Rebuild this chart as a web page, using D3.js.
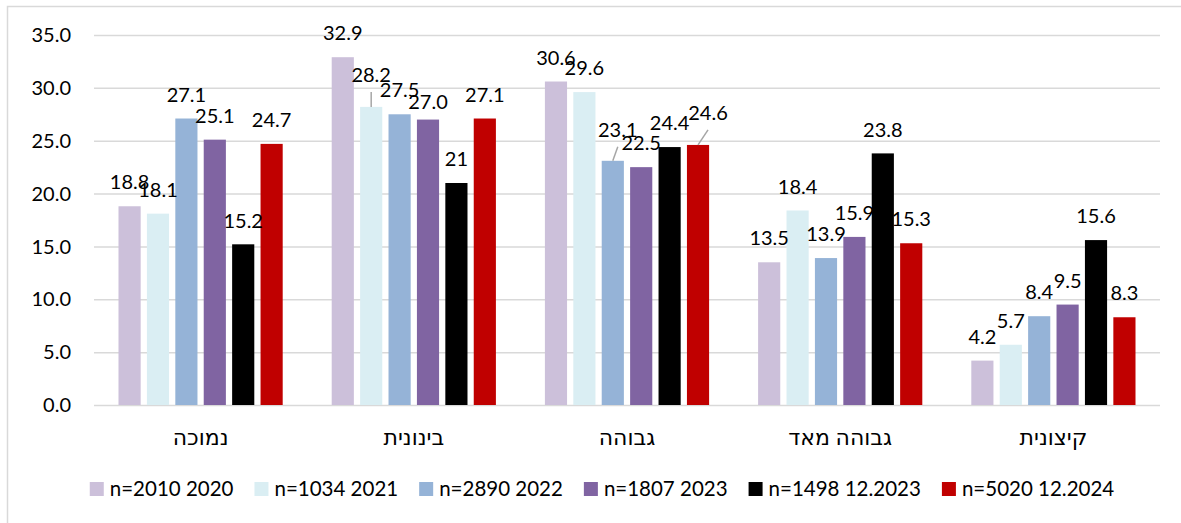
<!DOCTYPE html>
<html>
<head>
<meta charset="utf-8">
<script src="https://cdn.jsdelivr.net/npm/d3@7"></script>
<style>
    body { margin: 0; background: #fff; }
    text { font-family: Lato, "DejaVu Sans", sans-serif; fill: #000; }
</style>
</head>
<body>
<div id="chart"></div>
<script>
const categories = ["נמוכה", "בינונית", "גבוהה", "גבוהה מאד", "קיצונית"];
const seriesNames = ["n=2010 2020", "n=1034 2021", "n=2890 2022", "n=1807 2023", "n=1498 12.2023", "n=5020 12.2024"];
const s2020 = [18.8, 32.9, 30.6, 13.5, 4.2];
const s2021 = [18.1, 28.2, 29.6, 18.4, 5.7];
const s2022 = [27.1, 27.5, 23.1, 13.9, 8.4];
const s2023 = [25.1, 27.0, 22.5, 15.9, 9.5];
const s122023 = [15.2, 21, 24.4, 23.8, 15.6];
const s122024 = [24.7, 27.1, 24.6, 15.3, 8.3];
const yTicks = [0, 5, 10, 15, 20, 25, 30, 35];

const colors = ["#ccc0da", "#daeef3", "#95b3d7", "#8064a2", "#000000", "#c00000"];
const allSeries = [s2020, s2021, s2022, s2023, s122023, s122024];

// labels that were dragged by hand in the original
const nudges = {
    "1-1": {dx: 0, dy: -8, leader: true},
    "1-3": {dx: 0, dy: 6},
    "2-2": {dx: 5, dy: -7, leader: true},
    "2-5": {dx: 10, dy: -8, leader: true}
};
const labelText = v => v === 21 ? "21" : d3.format(".1f")(v);

const width = 1181, height = 523;
const margin = {top: 35, right: 21, bottom: 118, left: 94};

const svg = d3.select("#chart")
    .append("svg")
    .attr("width", width)
    .attr("height", height);

// outer chart border
svg.append("rect")
    .attr("x", 7.5).attr("y", 6.5)
    .attr("width", 1200).attr("height", 600)
    .attr("fill", "none")
    .attr("stroke", "#d9d9d9")
    .attr("stroke-width", 1.5);

const x0 = d3.scaleBand()
    .domain(categories)
    .range([margin.left, width - margin.right]);

const x1 = d3.scaleBand()
    .domain(d3.range(seriesNames.length))
    .range([24.5, x0.bandwidth() - 24.5])
    .paddingInner(0.22);

const y = d3.scaleLinear()
    .domain([0, 35])
    .range([height - margin.bottom, margin.top]);

// gridlines
svg.append("g")
    .selectAll("line")
    .data(yTicks)
    .enter()
    .append("line")
    .attr("x1", margin.left)
    .attr("x2", width - margin.right)
    .attr("y1", d => y(d) + 0.5)
    .attr("y2", d => y(d) + 0.5)
    .attr("stroke", "#d9d9d9")
    .attr("stroke-width", 1.5);

svg.append("g")
    .selectAll("text")
    .data(yTicks)
    .enter()
    .append("text")
    .attr("x", 71)
    .attr("y", d => y(d))
    .attr("dy", "0.36em")
    .attr("text-anchor", "end")
    .style("font-size", "20px")
    .text(d => d3.format(".1f")(d));

const rows = [];
categories.forEach((c, ci) => {
    allSeries.forEach((s, si) => {
        rows.push({ci: ci, si: si, cat: c, value: s[ci]});
    });
});

const bx = d => x0(d.cat) + x1(d.si);
const nudge = d => nudges[d.ci + "-" + d.si] || {dx: 0, dy: 0};

svg.append("g")
    .selectAll("rect")
    .data(rows)
    .enter()
    .append("rect")
    .attr("x", d => bx(d))
    .attr("y", d => y(d.value))
    .attr("width", x1.bandwidth())
    .attr("height", d => y(0) - y(d.value))
    .attr("fill", d => colors[d.si]);

// leader lines for moved labels
svg.append("g")
    .selectAll("line")
    .data(rows.filter(d => nudge(d).leader))
    .enter()
    .append("line")
    .attr("x1", d => bx(d) + x1.bandwidth() / 2)
    .attr("y1", d => y(d.value))
    .attr("x2", d => bx(d) + x1.bandwidth() / 2 + nudge(d).dx)
    .attr("y2", d => y(d.value) - 24 + nudge(d).dy + 17)
    .attr("stroke", "#a6a6a6")
    .attr("stroke-width", 1.5);

svg.append("g")
    .selectAll("text")
    .data(rows)
    .enter()
    .append("text")
    .attr("x", d => bx(d) + x1.bandwidth() / 2 + nudge(d).dx)
    .attr("y", d => y(d.value) - 24 + nudge(d).dy)
    .attr("dy", "0.36em")
    .attr("text-anchor", "middle")
    .style("font-size", "20px")
    .text(d => labelText(d.value));

// category labels
svg.append("g")
    .selectAll("text")
    .data(categories)
    .enter()
    .append("text")
    .attr("x", d => x0(d) + x0.bandwidth() / 2)
    .attr("y", 437)
    .attr("dy", "0.36em")
    .attr("text-anchor", "middle")
    .style("font-size", "22px")
    .text(d => d);

// legend
const legend = svg.append("g");
const items = legend.selectAll("g")
    .data(seriesNames)
    .enter()
    .append("g");

items.append("rect")
    .attr("width", 14)
    .attr("height", 14)
    .attr("y", 482)
    .attr("fill", (d, i) => colors[i]);

items.append("text")
    .attr("x", 20)
    .attr("y", 489)
    .attr("dy", "0.36em")
    .style("font-size", "20.5px")
    .text(d => d);

let pos = 0;
items.each(function (d) {
    d3.select(this).attr("transform", "translate(" + pos + ",0)");
    pos += 20 + d3.select(this).select("text").node().getComputedTextLength() + 21;
});
const total = pos - 21;
legend.attr("transform", "translate(" + ((86 + 1118) / 2 - total / 2) + ",0)");
</script>
</body>
</html>
